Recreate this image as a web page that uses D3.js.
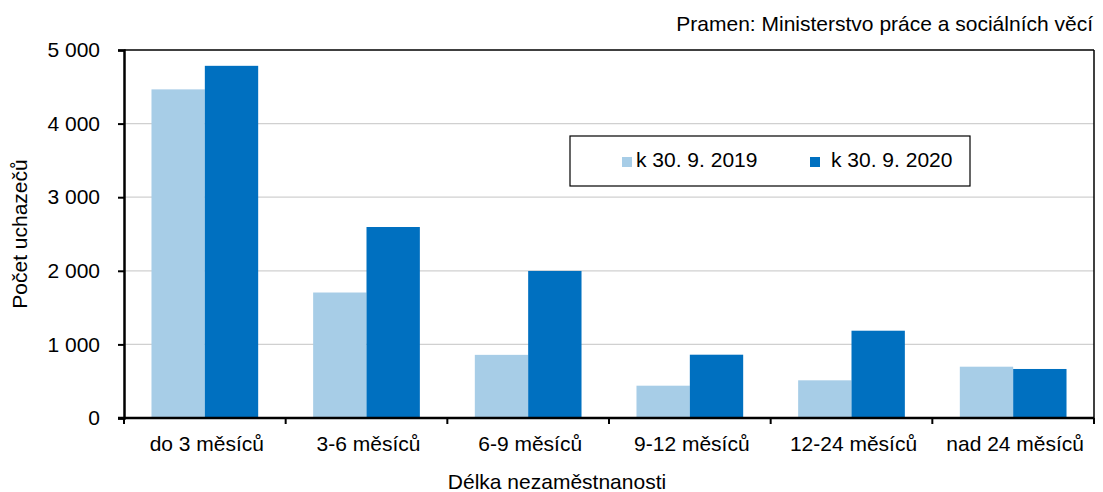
<!DOCTYPE html>
<html>
<head>
<meta charset="utf-8">
<script src="https://cdn.jsdelivr.net/npm/d3@7"></script>
<style>
  body { margin: 0; background: #fff; }
  svg text { font-family: "Liberation Sans", Arial, sans-serif; fill: #000; }
</style>
</head>
<body>
<div id="chart"></div>
<script>
/* Chart data */
var categories = ["do 3 měsíců", "3-6 měsíců", "6-9 měsíců", "9-12 měsíců", "12-24 měsíců", "nad 24 měsíců"];
var seriesNames = ["k 30. 9. 2019", "k 30. 9. 2020"];
var values2019 = [4465, 1705, 858, 439, 512, 697];
var values2020 = [4785, 2595, 1998, 860, 1186, 666];
var yTicks = [0, 1000, 2000, 3000, 4000, 5000];
var colors = ["#A7CDE7", "#0070C0"];

var width = 1103, height = 492;
var margin = { top: 50, right: 9, bottom: 74, left: 124 };
var w = width - margin.left - margin.right;
var h = height - margin.top - margin.bottom;
var fs = "21px";

var svg = d3.select("#chart").append("svg")
    .attr("width", width)
    .attr("height", height);

var g = svg.append("g")
    .attr("transform", "translate(" + margin.left + "," + margin.top + ")");

/* scales */
var x = d3.scaleBand().domain(categories).range([0, w]).paddingInner(0).paddingOuter(0);
var xs = d3.scaleBand().domain(seriesNames).range([x.bandwidth() * 0.17, x.bandwidth() * 0.83]);
var y = d3.scaleLinear().domain([0, 5000]).range([h, 0]);

var fmt = function(v){ return d3.format(",")(v).replace(/,/g, " "); };

/* gridlines */
g.selectAll(".grid")
  .data(yTicks.filter(function(t){ return t > 0 && t < 5000; }))
  .enter().append("line")
  .attr("x1", 0).attr("x2", w)
  .attr("y1", function(d){ return y(d); })
  .attr("y2", function(d){ return y(d); })
  .style("stroke", "#D0D0D0")
  .style("stroke-width", 1.2);

/* bars */
var rows = categories.map(function(c, i){
  return { cat: c, vals: [values2019[i], values2020[i]] };
});
var grp = g.selectAll(".grp").data(rows).enter().append("g")
  .attr("transform", function(d){ return "translate(" + x(d.cat) + ",0)"; });
grp.selectAll("rect")
  .data(function(d){ return d.vals.map(function(v, k){ return { s: seriesNames[k], v: v, k: k }; }); })
  .enter().append("rect")
  .attr("x", function(d){ return xs(d.s); })
  .attr("y", function(d){ return y(d.v); })
  .attr("width", xs.bandwidth())
  .attr("height", function(d){ return h - y(d.v); })
  .style("fill", function(d){ return colors[d.k]; });

/* frame: top and right */
g.append("line").attr("x1", 0).attr("x2", w).attr("y1", 0).attr("y2", 0)
  .style("stroke", "#000").style("stroke-width", 1.5);
g.append("line").attr("x1", w).attr("x2", w).attr("y1", 0).attr("y2", h)
  .style("stroke", "#000").style("stroke-width", 1.5);

/* y axis */
var yAxis = g.append("g")
  .call(d3.axisLeft(y).tickValues(yTicks).tickFormat(fmt).tickSize(6).tickPadding(18));
yAxis.select(".domain").style("stroke", "#000").style("stroke-width", 2.5);
yAxis.selectAll(".tick line").style("stroke", "#000").style("stroke-width", 2);
yAxis.selectAll("text").style("font-size", fs).style("font-family", "Liberation Sans, Arial, sans-serif");

/* x axis with ticks at band boundaries */
var xAxis = g.append("g").attr("transform", "translate(0," + h + ")");
xAxis.append("line").attr("x1", -6).attr("x2", w).attr("y1", 0).attr("y2", 0)
  .style("stroke", "#000").style("stroke-width", 2.5);
var bounds = categories.map(function(c){ return x(c); }).concat([w]);
xAxis.selectAll(".xt").data(bounds).enter().append("line")
  .attr("x1", function(d){ return d; }).attr("x2", function(d){ return d; })
  .attr("y1", 0).attr("y2", 6)
  .style("stroke", "#000").style("stroke-width", 2);
xAxis.selectAll(".xl").data(categories).enter().append("text")
  .attr("x", function(d){ return x(d) + x.bandwidth() / 2 + 2; })
  .attr("y", 33)
  .style("font-size", fs)
  .style("text-anchor", "middle")
  .text(function(d){ return d; });

/* axis titles */
svg.append("text")
  .attr("x", 557).attr("y", 489)
  .style("font-size", fs).style("text-anchor", "middle")
  .text("Délka nezaměstnanosti");
svg.append("text")
  .attr("transform", "translate(27," + (margin.top + h / 2) + ") rotate(-90)")
  .style("font-size", fs).style("text-anchor", "middle")
  .text("Počet uchazečů");

/* source */
svg.append("text")
  .attr("x", 1093).attr("y", 31)
  .style("font-size", fs).style("text-anchor", "end")
  .text("Pramen: Ministerstvo práce a sociálních věcí");

/* legend */
var lg = svg.append("g").attr("transform", "translate(570,136)");
lg.append("rect").attr("width", 400).attr("height", 50)
  .style("fill", "#fff").style("stroke", "#000").style("stroke-width", 1.2);
var legendX = [52, 240];
var items = lg.selectAll(".li").data(seriesNames).enter().append("g")
  .attr("transform", function(d, i){ return "translate(" + legendX[i] + ",0)"; });
items.append("rect").attr("x", 0).attr("y", 21).attr("width", 10).attr("height", 10)
  .style("fill", function(d, i){ return colors[i]; });
items.append("text").attr("x", function(d, i){ return i === 0 ? 14 : 21; }).attr("y", 31)
  .style("font-size", fs)
  .text(function(d){ return d; });
</script>
</body>
</html>
